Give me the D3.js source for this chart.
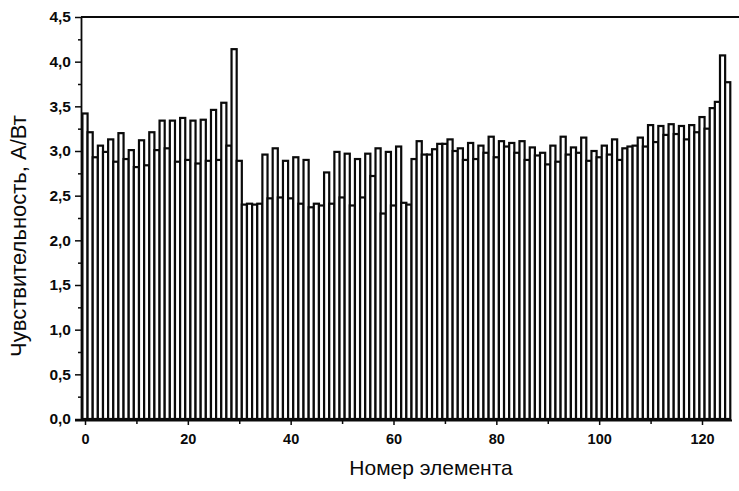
<!DOCTYPE html>
<html><head><meta charset="utf-8">
<script src="https://cdn.jsdelivr.net/npm/d3@7"></script>
<style>body{margin:0;background:#fff}svg{display:block}</style>
</head><body><svg id="c" width="739" height="491"></svg>
<script>
const elements = d3.range(0, 126);
const sensitivity = [
 3.42,3.21,2.93,3.06,2.99,3.13,2.88,3.20,2.91,3.01,
 2.82,3.12,2.84,3.21,3.01,3.34,3.03,3.34,2.88,3.37,
 2.90,3.34,2.86,3.35,2.89,3.46,2.90,3.54,3.06,4.14,
 2.89,2.40,2.41,2.40,2.41,2.96,2.47,3.03,2.48,2.89,
 2.47,2.93,2.41,2.90,2.37,2.41,2.39,2.76,2.41,2.99,
 2.48,2.97,2.39,2.91,2.48,2.97,2.72,3.03,2.30,2.99,
 2.39,3.05,2.42,2.40,2.91,3.11,2.96,2.96,3.02,3.08,
 3.08,3.13,3.00,3.03,2.90,3.09,2.91,3.06,2.98,3.16,
 2.93,3.11,3.05,3.09,2.98,3.11,2.90,3.04,2.95,2.98,
 2.85,3.06,2.88,3.16,2.96,3.04,2.98,3.15,2.89,3.00,
 2.93,3.06,2.96,3.13,2.90,3.03,3.05,3.06,3.15,3.05,
 3.29,3.10,3.28,3.18,3.30,3.19,3.28,3.13,3.29,3.21,
 3.38,3.25,3.48,3.55,4.07,3.77
];
const xTicks = [0,20,40,60,80,100,120];
const yTicks = [0,0.5,1,1.5,2,2.5,3,3.5,4,4.5];
const xLabel = "Номер элемента";
const yLabel = "Чувствительность, А/Вт";

const svg = d3.select("#c");
const x = d3.scaleLinear().domain([0,120]).range([85,702]);
const y = d3.scaleLinear().domain([0,4.5]).range([419,17]);
const bw = x(1)-x(0);
const fmt = d => d3.format(".1f")(d).replace(".", ",");
const ink = "#0a0a0a";
const font = "Liberation Sans, Arial, sans-serif";

// bars
svg.append("g").selectAll("rect").data(elements).join("rect")
  .attr("x", d => x(d) - bw/2)
  .attr("width", bw)
  .attr("y", d => y(sensitivity[d]))
  .attr("height", d => y(0) - y(sensitivity[d]))
  .attr("fill", "#fff").attr("stroke", ink).attr("stroke-width", 2.2);

// top frame
svg.append("line").attr("x1", 81).attr("x2", 739).attr("y1", y(4.5)).attr("y2", y(4.5))
  .attr("stroke", ink).attr("stroke-width", 1.8);

// y axis
const ya = svg.append("g").attr("transform", "translate(81,0)")
  .call(d3.axisLeft(y).tickValues(yTicks).tickFormat(fmt).tickSize(6).tickPadding(4));
svg.append("g").attr("transform", "translate(81,0)")
  .call(d3.axisLeft(y).tickValues(d3.range(0.25,4.5,0.5)).tickFormat("").tickSize(3))
  .select(".domain").remove();
// x axis
const xa = svg.append("g").attr("transform", `translate(0,${y(0)+1})`)
  .call(d3.axisBottom(x).tickValues(xTicks).tickFormat(d3.format("d")).tickSize(5).tickPadding(9));
svg.append("g").attr("transform", `translate(0,${y(0)+1})`)
  .call(d3.axisBottom(x).tickValues([10,30,50,70,90,110]).tickFormat("").tickSize(4))
  .select(".domain").remove();
svg.selectAll(".domain").attr("stroke", ink).attr("stroke-width", 1.8);
xa.select(".domain").attr("d", `M75,0.5H732`);
ya.select(".domain").attr("d", `M0.5,${y(4.5)}V${y(0)+1}`);
svg.selectAll(".tick line").attr("stroke", ink).attr("stroke-width", 1.5);
svg.selectAll(".tick text").attr("font-family", font).attr("font-weight", "bold").attr("fill", ink);
ya.selectAll(".tick text").attr("font-size", 15.5);
xa.selectAll(".tick text").attr("font-size", 14.5);

svg.append("text").attr("x", 431).attr("y", 475).attr("text-anchor", "middle")
  .attr("font-family", font).attr("font-size", 21).attr("fill", ink)
  .text(xLabel);
svg.append("text").attr("transform", "translate(26,236) rotate(-90)").attr("text-anchor", "middle")
  .attr("font-family", font).attr("font-size", 22).attr("fill", ink)
  .text(yLabel);
</script></body></html>
